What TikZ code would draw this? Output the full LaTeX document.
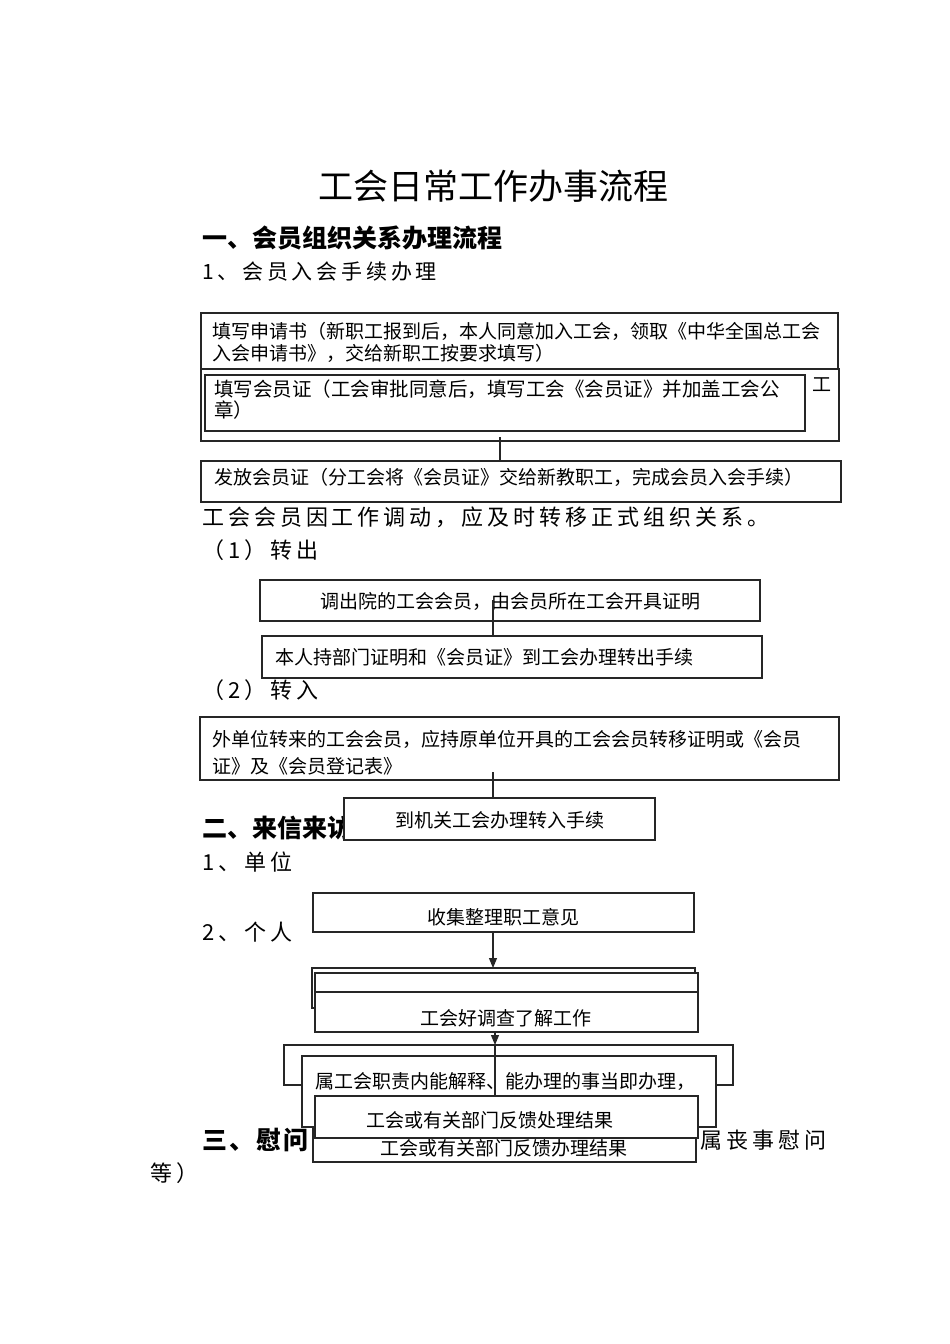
\documentclass[tikz,border=0pt]{standalone}
\usepackage{fontspec}
\newfontfamily\cjk{Noto Sans CJK SC}
\newfontfamily\cjkls{Noto Sans CJK SC}[LetterSpace=18]
\newfontfamily\cjkms{Noto Sans CJK SC}[LetterSpace=8]
\usetikzlibrary{arrows.meta}
\newcommand\ubox[6][]{\node[box,#1,minimum width={#5-#3},minimum height={#6-#4}] (#2) at (#3,#4) {};}
\tikzset{
  box/.style={draw=black!85, line width=1.1pt, fill=white, anchor=north west, inner sep=0pt, outer sep=0pt},
  txt/.style={anchor=west, inner sep=0pt, align=left, font=\cjk\fontsize{19}{22}\selectfont},
  body/.style={anchor=west, inner sep=0pt, font=\cjkls\fontsize{22}{26}\selectfont},
  head/.style={anchor=west, inner sep=0pt, font=\cjk\bfseries\fontsize{25}{28}\selectfont},
  conn/.style={draw=black!85, line width=1.1pt},
  arr/.style={conn, -{Triangle[length=10pt,width=8pt]}}
}
\begin{document}
\begin{tikzpicture}[x=1pt,y=-1pt]
\fill[white] (0,0) rectangle (950,1344);
\useasboundingbox (0,0) rectangle (950,1344);

% title and headings
\node[anchor=west, inner sep=0pt, font=\cjk\fontsize{35}{40}\selectfont] (title) at (318,186) {工会日常工作办事流程};
\node[head] (h1) at (202,238) {一、会员组织关系办理流程};
\node[body, font=\cjkls\fontsize{21}{25}\selectfont] (s1) at (202,272) {1、会员入会手续办理};

% 1. joining
\ubox{A}{201}{313}{838}{370}
\node[txt] (tA) at (212,342) {填写申请书（新职工报到后，本人同意加入工会，领取《中华全国总工会\\入会申请书》，交给新职工按要求填写）};
\ubox{B}{201}{369}{839}{441}
\node[txt] (tB) at (812,385) {工};
\ubox{C}{205}{375}{805}{431}
\node[txt, font=\cjk\fontsize{19.5}{21}\selectfont] (tC) at (214,399.5) {填写会员证（工会审批同意后，填写工会《会员证》并加盖工会公\\章）};
\ubox{D}{201}{461}{841}{502}
\node[txt] (tD) at (214,477) {发放会员证（分工会将《会员证》交给新教职工，完成会员入会手续）};
\coordinate (b1) at (500,437);
\draw[conn] (b1) -- (b1 |- D.north);

\node[body] (s2) at (202,517) {工会会员因工作调动，应及时转移正式组织关系。};
\node[body] (s3) at (202,550) {（1）转出};

% transfer out
\ubox{E}{260}{580}{760}{621}
\node[txt] (tE) at (320,601) {调出院的工会会员，由会员所在工会开具证明};
\ubox{F}{262}{636}{762}{678}
\node[txt] (tF) at (275,657) {本人持部门证明和《会员证》到工会办理转出手续};
\coordinate (e1) at (493,600);
\draw[conn] (e1) -- (e1 |- F.north);

\node[body] (s4) at (202,690) {（2）转入};

% transfer in
\ubox{G}{200}{717}{839}{780}
\node[txt, font=\cjk\fontsize{19}{27}\selectfont] (tG) at (212,752.5) {外单位转来的工会会员，应持原单位开具的工会会员转移证明或《会员\\证》及《会员登记表》};
\node[head] (h2) at (202,828) {二、来信来访};
\ubox{H}{344}{798}{655}{840}
\node[txt] (tH) at (395,820) {到机关工会办理转入手续};
\coordinate (g1) at (493,772);
\draw[conn] (g1) -- (g1 |- H.north);

\node[body] (s5) at (202,862) {1、单位};
\node[body] (s6) at (202,932) {2、个人};

% letters and visits
\ubox{I}{313}{893}{694}{932}
\node[txt] (tI) at (427,917) {收集整理职工意见};
\ubox{J}{312}{968}{695}{1008}
\coordinate (i1) at (493,932);
\draw[arr] (i1) -- (i1 |- J.north);
\ubox{K}{315}{973}{698}{1032}
\ubox{L}{315}{992}{698}{1032}
\node[txt] (tL) at (420,1018) {工会好调查了解工作};

\node[head, font=\cjkms\bfseries\fontsize{25}{28}\selectfont] (h3) at (202,1140) {三、慰问};
\node[body] (h3b) at (700,1140) {属丧事慰问};
\node[body] (h3c) at (150,1173) {等）};

\ubox{M}{284}{1045}{733}{1085}
\coordinate (k1) at (495,1032);
\draw[arr] (k1) -- (k1 |- M.north);
\ubox{N}{302}{1056}{716}{1127}
\node[txt] (tN) at (315,1081) {属工会职责内能解释、能办理的事当即办理，};
\ubox{P}{313}{1128}{696}{1162}
\node[txt] (tP) at (380,1148) {工会或有关部门反馈办理结果};
\ubox{O}{315}{1096}{698}{1138}
\node[txt] (tO) at (366,1120) {工会或有关部门反馈处理结果};
\coordinate (m1) at (495,1045);
\draw[conn] (m1) -- (m1 |- O.north);
\end{tikzpicture}
\end{document}
